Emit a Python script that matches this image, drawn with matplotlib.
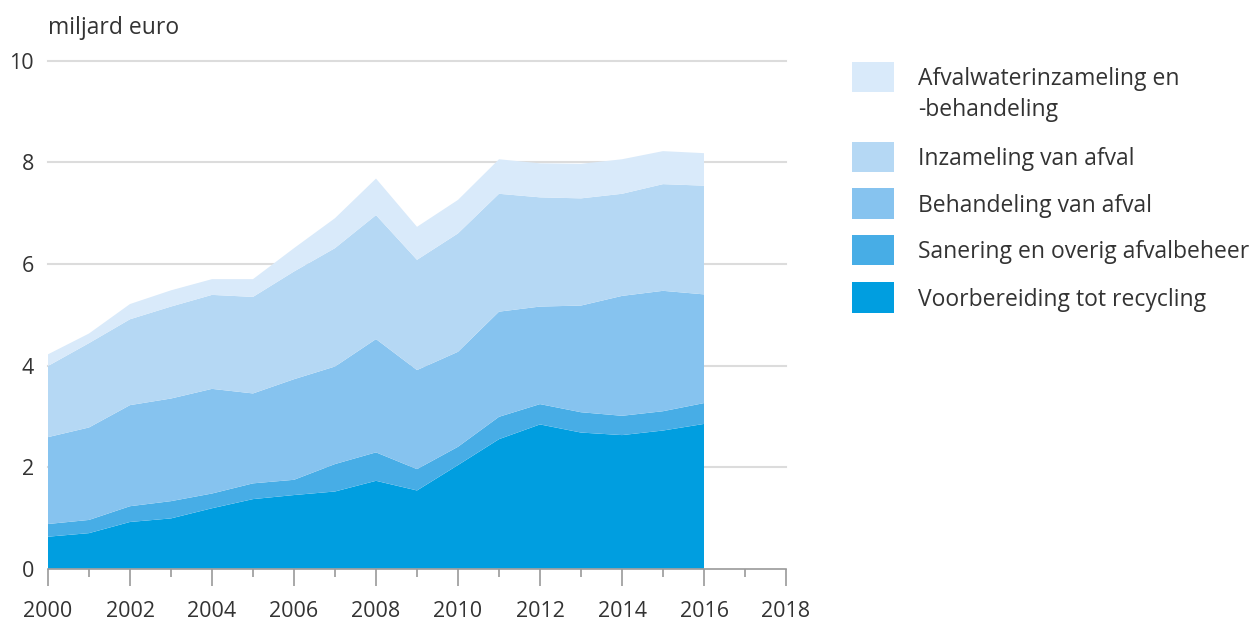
import matplotlib
matplotlib.use("Agg")
import matplotlib.pyplot as plt
from matplotlib.patches import Rectangle

plt.rcParams['font.family'] = ['Open Sans', 'DejaVu Sans']

years = list(range(2000, 2017))
voorbereiding = [0.63, 0.70, 0.92, 0.99, 1.19, 1.37, 1.45, 1.52, 1.73, 1.54, 2.04, 2.55, 2.84, 2.68, 2.63, 2.72, 2.85]
sanering = [0.25, 0.26, 0.31, 0.34, 0.29, 0.31, 0.30, 0.54, 0.56, 0.42, 0.36, 0.44, 0.40, 0.40, 0.38, 0.38, 0.41]
behandeling = [1.71, 1.82, 1.99, 2.02, 2.06, 1.77, 1.98, 1.92, 2.23, 1.95, 1.87, 2.07, 1.92, 2.10, 2.36, 2.37, 2.14]
inzameling = [1.40, 1.66, 1.69, 1.81, 1.85, 1.90, 2.12, 2.33, 2.44, 2.17, 2.33, 2.32, 2.15, 2.11, 2.01, 2.10, 2.14]
afvalwater = [0.23, 0.19, 0.30, 0.32, 0.31, 0.35, 0.46, 0.59, 0.72, 0.65, 0.66, 0.68, 0.67, 0.68, 0.68, 0.65, 0.64]

labels = ["Voorbereiding tot recycling", "Sanering en overig afvalbeheer",
          "Behandeling van afval", "Inzameling van afval",
          "Afvalwaterinzameling en\n-behandeling"]
colors = ["#009EE0", "#47ADE6", "#86C3EF", "#B5D8F4", "#D9EAFA"]

W, H = 1259, 624
fig = plt.figure(figsize=(W / 100, H / 100), dpi=100)
x0, x1 = 48, 786
y0, y1 = 568.7, 60.7
ax = fig.add_axes([x0 / W, (H - y0) / H, (x1 - x0) / W, (y0 - y1) / H])

ax.stackplot(years, voorbereiding, sanering, behandeling, inzameling, afvalwater,
             colors=colors, linewidth=0, zorder=2)

ax.set_xlim(2000, 2018)
ax.set_ylim(0, 10)
for v in [2, 4, 6, 8, 10]:
    ax.axhline(v, color="#dcdcdc", lw=1.5, zorder=1, clip_on=False)

for s in ["top", "right", "left"]:
    ax.spines[s].set_visible(False)
ax.spines["bottom"].set_color("#9a9a9a")
ax.spines["bottom"].set_linewidth(1.2)
ax.spines["bottom"].set_zorder(3)

ax.set_xticks(range(2000, 2019, 2))
ax.set_xticks(range(2001, 2019, 2), minor=True)
ax.tick_params(axis="x", which="major", direction="out", length=12, width=1.2,
               color="#9a9a9a", labelsize=15.5, labelcolor="#333333", pad=11)
ax.tick_params(axis="x", which="minor", direction="out", length=6, width=1.2,
               color="#9a9a9a")
ax.set_yticks([0, 2, 4, 6, 8, 10])
ax.tick_params(axis="y", length=0, labelsize=15.5, labelcolor="#333333", pad=10)

fig.text(x0 / W, 1 - 28 / H, "miljard euro", fontsize=16.5, color="#333333",
         ha="left", va="center")

# legend
order = [4, 3, 2, 1, 0]
patch_tops = [61.7, 141.7, 188.5, 235.5, 282.5]
for idx, top in zip(order, patch_tops):
    fig.add_artist(Rectangle((852 / W, 1 - (top + 30) / H), 42 / W, 30 / H,
                             transform=fig.transFigure, facecolor=colors[idx],
                             edgecolor="none"))
    lines = labels[idx].split("\n")
    if len(lines) == 1:
        fig.text(918 / W, 1 - (top + 17) / H, lines[0], fontsize=16.5,
                 color="#333333", ha="left", va="center")
    else:
        for k, ln in enumerate(lines):
            fig.text(918 / W, 1 - (top + 17 + 31 * k) / H, ln, fontsize=16.5,
                     color="#333333", ha="left", va="center")

fig.savefig("out.png", dpi=100)
